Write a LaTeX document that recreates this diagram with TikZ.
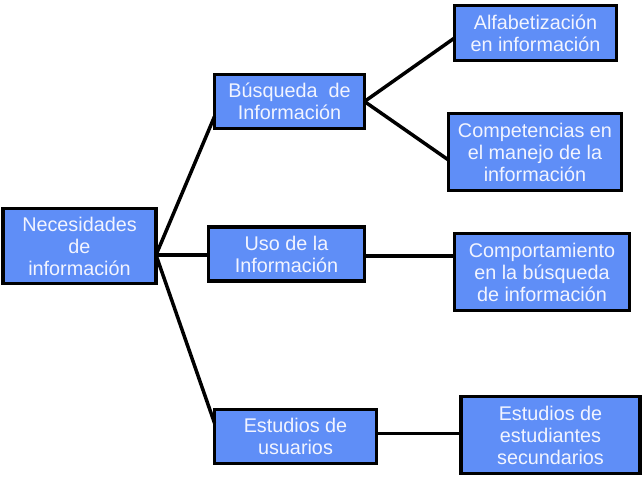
\documentclass[tikz,border=0pt]{standalone}
\usepackage{fontspec}
\setmainfont{Liberation Sans}
\definecolor{boxfill}{RGB}{95,142,247}
\definecolor{boxtext}{RGB}{242,244,255}
\begin{document}
\begin{tikzpicture}[x=1pt,y=-1pt,
  box/.style={draw=black, line width=3.5pt, fill=boxfill, text=boxtext,
    align=center, inner sep=0pt, outer sep=0pt,
    font=\fontsize{19.8}{22}\selectfont},
  link/.style={draw=black, line width=3.5pt}]
\useasboundingbox (0,0) rectangle (643,480);
\node[box, minimum width=153pt, minimum height=75pt] (nec) at (79.5,246) {Necesidades\\de\\información};
\node[box, minimum width=150pt, minimum height=54pt] (bus) at (289.5,101.5) {Búsqueda\ \ de\\Información};
\node[box, minimum width=156pt, minimum height=54pt] (uso) at (286.5,254) {Uso de la\\Información};
\node[box, minimum width=162pt, minimum height=54pt] (est) at (295.5,436.5) {Estudios de\\usuarios};
\node[box, minimum width=162pt, minimum height=55pt] (alf) at (535.5,33) {Alfabetización\\en información};
\node[box, minimum width=173pt, minimum height=77pt] (comp) at (535,152) {Competencias en\\el manejo de la\\información};
\node[box, minimum width=175pt, minimum height=77pt] (compo) at (542,272) {Comportamiento\\en la búsqueda\\de información};
\node[box, minimum width=179pt, minimum height=77pt] (estsec) at (550.5,435) {Estudios de\\estudiantes\\secundarios};
\coordinate (hub) at ([yshift=-9pt]nec.east);
\draw[link] (hub) -- ([yshift=12pt]bus.south west);
\draw[link] (hub) -- (hub -| uso.west);
\draw[link] (hub) -- ([yshift=13.5pt]est.west);
\draw[link] (bus.east) -- ([yshift=-5pt]alf.west);
\draw[link] (bus.east) -- ([yshift=-8pt]comp.west);
\draw[link] ([yshift=-2pt]uso.east) -- ([yshift=-2pt]uso.east -| compo.west);
\draw[link] ([yshift=3pt]est.east) -- ([yshift=3pt]est.east -| estsec.west);
\end{tikzpicture}
\end{document}
